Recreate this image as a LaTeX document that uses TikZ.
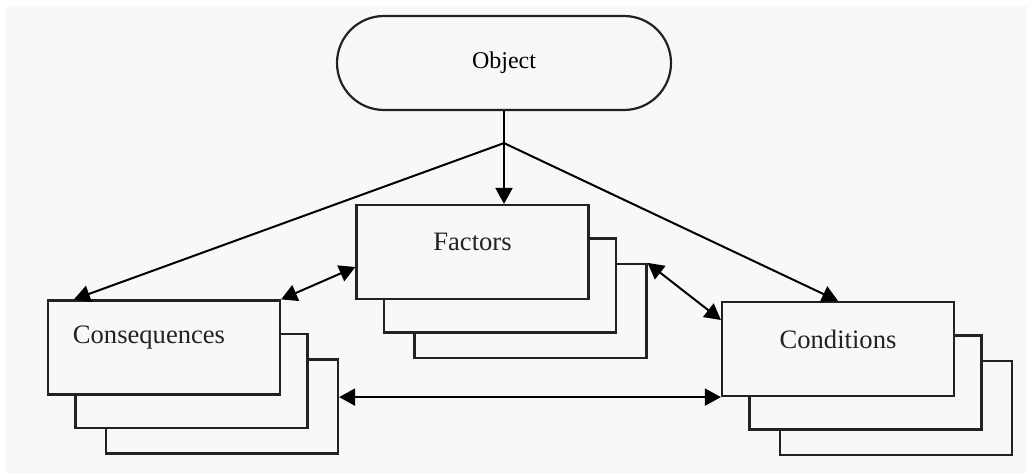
\documentclass[tikz,border=0pt]{standalone}
\usepackage{fontspec}
\setmainfont{Liberation Serif}
\usetikzlibrary{arrows.meta,positioning,backgrounds,calc}
\definecolor{paper}{RGB}{248,248,248}
\definecolor{inkgray}{RGB}{34,34,34}
\tikzset{
  sheet/.style ={rectangle, draw=inkgray, line width=1.1pt, fill=paper,
                 minimum width=116pt, minimum height=47pt, inner sep=0pt},
  term/.style  ={rectangle, rounded corners=23.5pt, draw=inkgray, line width=1.1pt, fill=paper,
                 minimum width=167pt, minimum height=47pt, font=\fontsize{12}{14}\selectfont},
  txt/.style   ={font=\fontsize{13.3}{16}\selectfont, text=inkgray},
  link/.style  ={line width=1pt, draw=black},
  flow/.style  ={-{Triangle[length=8pt,width=8.5pt]}, line width=1pt, draw=black},
  flowb/.style ={{Triangle[length=8pt,width=8.5pt]}-{Triangle[length=8pt,width=8.5pt]},
                 line width=1pt, draw=black}
}

\begin{document}
\begin{tikzpicture}[x=0.5pt, y=-0.5pt]
\useasboundingbox (0,0) rectangle (1033,475);
\begin{scope}[on background layer]
\fill[paper] (6,6) rectangle (1027,473);
\end{scope}

% ---- Object and split point ----
\node[term] (obj) at (504,63) {Object};
\coordinate[below=16pt of obj] (split);

% ---- Stacked sheets ----
\node[sheet, label={[txt, yshift=5pt, xshift=-7.5pt]center:Consequences}] (cons) at (164,347.5) {};
\node[sheet, label={[txt, yshift=5pt]center:Factors}] (factors) at (472.5,252) {};
\node[sheet, label={[txt, yshift=5pt]center:Conditions}] (cond) at (838,349) {};
\begin{scope}[on background layer]
\foreach \s in {cons,factors,cond} {
  \node[sheet] (\s-2) at ([shift={(58,59)}]\s.center) {};
  \node[sheet] (\s-1) at ([shift={(27.5,33.5)}]\s.center) {};
}
\end{scope}

% ---- Edges ----
\draw[link] (obj.south) -- (split);
\draw[flow] (split) -- (split |- factors.north);
\draw[flow] (split) -- ([xshift=13.5pt]cons.north west);
\draw[flow] (split) -- (cond.north);
\draw[flowb] (cons.north east) -- ([yshift=-7.5pt]factors.west);
\draw[flowb] (factors-2.north east) -- ([yshift=14.5pt]cond.west);
\draw[flowb] (cond.south west -| cons-2.east) -- (cond.south west);
\end{tikzpicture}
\end{document}
